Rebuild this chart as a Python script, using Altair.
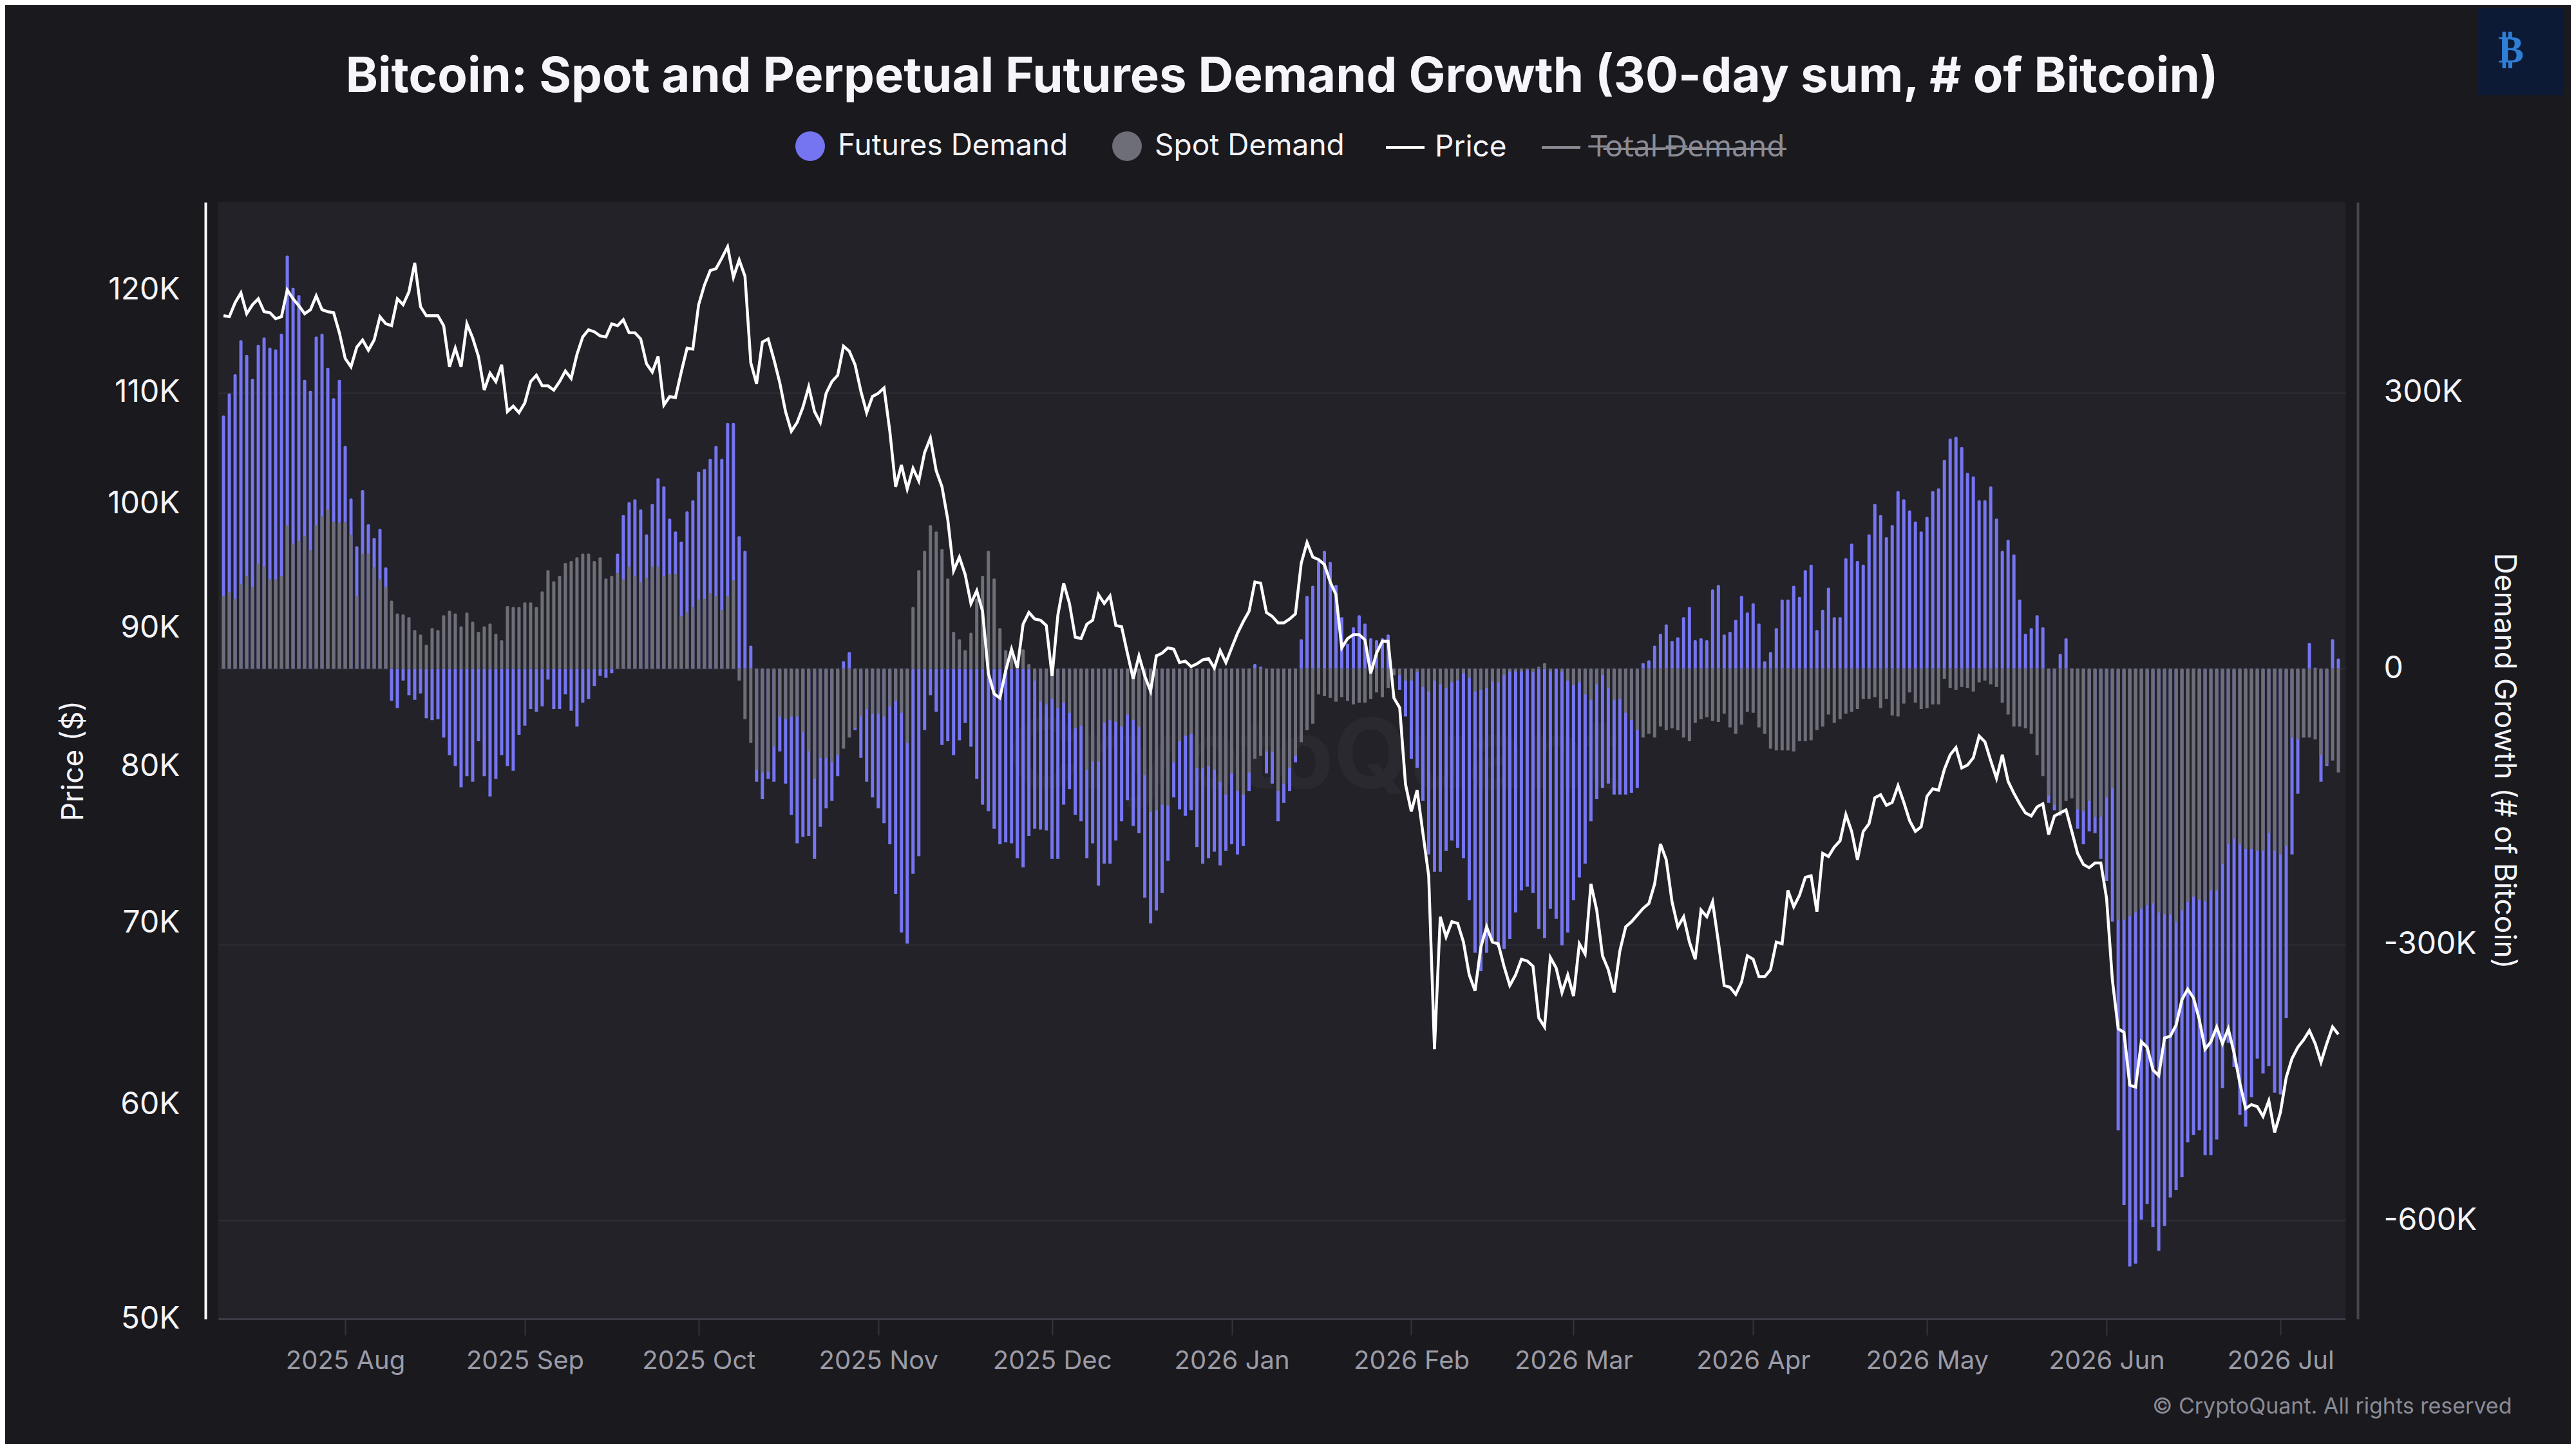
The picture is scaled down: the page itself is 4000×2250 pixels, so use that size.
import altair as alt
import pandas as pd

# ---------------- data ----------------
START_DATE = "2025-07-11"   # first daily bar

# BTC price, thousands of USD, one value per day
PRICE_K = [
    117.4, 117.3, 118.7, 119.7, 117.6, 118.5, 119.1, 117.8, 117.7, 117.1,
    117.3, 120.0, 119.1, 118.4, 117.6, 118.0, 119.4, 118.0, 117.8, 117.7,
    115.7, 113.2, 112.4, 114.3, 115.0, 114.0, 115.0, 117.3, 116.6, 116.4,
    119.1, 118.5, 119.8, 122.8, 118.3, 117.4, 117.4, 117.4, 116.4, 112.4,
    114.2, 112.4, 116.6, 115.2, 113.4, 110.2, 111.8, 111.0, 112.6, 108.2,
    108.7, 108.1, 109.0, 111.0, 111.6, 110.6, 110.6, 110.2, 111.0, 112.0,
    111.3, 113.6, 115.3, 116.0, 115.8, 115.4, 115.3, 116.6, 116.4, 117.0,
    115.7, 115.7, 115.1, 112.7, 111.9, 113.4, 108.8, 109.6, 109.5, 111.9,
    114.2, 114.1, 118.5, 120.5, 122.0, 122.2, 123.3, 124.5, 121.3, 123.1,
    121.4, 112.8, 110.8, 114.8, 115.1, 113.1, 110.9, 108.2, 106.4, 107.2,
    108.6, 110.5, 108.2, 107.2, 109.9, 111.0, 111.6, 114.4, 113.9, 112.6,
    110.1, 108.1, 109.6, 109.9, 110.4, 106.4, 101.5, 103.4, 101.3, 103.1,
    102.0, 104.5, 105.8, 102.9, 101.5, 98.7, 94.5, 95.6, 94.2, 91.9,
    92.9, 91.3, 86.6, 85.1, 84.8, 86.8, 88.4, 87.0, 90.3, 91.2,
    90.7, 90.6, 90.2, 86.4, 91.0, 93.5, 91.9, 89.3, 89.2, 90.3,
    90.6, 92.6, 91.9, 92.5, 90.2, 90.1, 88.1, 86.2, 87.9, 86.4,
    85.3, 87.9, 88.1, 88.5, 88.4, 87.4, 87.5, 87.1, 87.3, 87.6,
    87.7, 87.0, 88.3, 87.4, 88.5, 89.6, 90.5, 91.3, 93.6, 93.5,
    91.2, 90.9, 90.4, 90.4, 90.7, 91.1, 95.1, 96.8, 95.6, 95.4,
    95.0, 93.6, 92.6, 88.5, 89.2, 89.5, 89.5, 89.1, 86.6, 88.1,
    89.0, 89.0, 84.8, 84.1, 78.8, 77.0, 78.4, 75.6, 72.9, 62.9,
    70.4, 69.2, 70.1, 70.0, 68.9, 67.0, 66.1, 68.6, 69.8, 68.9,
    68.8, 67.5, 66.4, 67.0, 67.9, 67.8, 67.5, 64.6, 64.1, 68.0,
    67.4, 66.0, 67.0, 65.8, 68.8, 68.2, 72.4, 70.8, 68.1, 67.3,
    66.0, 68.4, 69.8, 70.1, 70.5, 70.9, 71.2, 72.4, 74.9, 73.9,
    71.3, 69.8, 70.4, 68.9, 67.9, 70.8, 70.4, 71.3, 68.9, 66.4,
    66.3, 65.9, 66.6, 68.1, 67.9, 66.9, 66.9, 67.3, 68.9, 68.8,
    72.0, 71.0, 71.7, 72.8, 72.9, 70.7, 74.3, 74.1, 74.7, 75.1,
    76.8, 75.7, 73.9, 75.7, 76.2, 77.9, 78.1, 77.4, 77.6, 78.7,
    77.6, 76.4, 75.7, 76.0, 78.0, 78.5, 78.4, 79.8, 80.8, 81.3,
    79.9, 80.1, 80.6, 82.1, 81.7, 80.4, 79.2, 80.8, 79.0, 78.2,
    77.5, 76.9, 76.7, 77.3, 77.5, 75.5, 76.7, 76.9, 77.1, 75.7,
    74.3, 73.6, 73.4, 73.7, 73.7, 71.5, 66.7, 64.0, 63.8, 61.0,
    60.9, 63.3, 63.0, 61.8, 61.5, 63.5, 63.6, 64.2, 65.6, 66.2,
    65.7, 64.5, 62.9, 63.3, 64.1, 63.2, 64.0, 62.7, 61.1, 59.8,
    60.0, 59.9, 59.4, 60.2, 58.6, 59.6, 61.4, 62.4, 63.0, 63.4,
    63.9, 63.2, 62.2, 63.2, 64.1, 63.7,
]

# Perpetual futures demand growth, thousands of BTC
FUTURES_K = [
    275, 299, 320, 357, 341, 315, 352, 360, 349, 347,
    364, 449, 414, 406, 314, 302, 361, 364, 327, 294,
    314, 242, 185, 133, 194, 157, 142, 152, 110, -35,
    -43, -13, -29, -34, -27, -54, -56, -55, -75, -94,
    -106, -129, -117, -123, -79, -117, -139, -120, -94, -106,
    -111, -72, -62, -44, -47, -41, -12, -44, -44, -28,
    -46, -63, -37, -33, -19, -8, -10, -5, 125, 167,
    181, 184, 173, 146, 179, 207, 198, 163, 149, 138,
    171, 183, 214, 217, 228, 242, 228, 267, 267, 144,
    128, 25, -123, -142, -120, -123, -90, -125, -159, -190,
    -183, -182, -207, -172, -152, -144, -117, 8, 18, -67,
    -97, -123, -140, -152, -168, -191, -245, -287, -299, -223,
    -204, -67, -29, -47, -83, -79, -94, -78, -59, -85,
    -120, -148, -155, -174, -191, -189, -190, -206, -216, -182,
    -174, -175, -176, -207, -207, -148, -131, -159, -166, -206,
    -190, -236, -212, -212, -187, -166, -143, -171, -179, -249,
    -277, -263, -244, -209, -140, -153, -160, -154, -194, -212,
    -206, -199, -214, -198, -191, -202, -193, -133, 5, 2,
    -114, -125, -166, -146, -133, -102, 32, 79, 90, 117,
    128, 116, 91, 56, 27, 45, 58, 49, 33, 31,
    33, 37, -7, -23, -52, -98, -108, -144, -202, -221,
    -221, -198, -187, -195, -206, -252, -309, -329, -309, -297,
    -303, -305, -294, -265, -241, -237, -244, -283, -293, -261,
    -272, -301, -287, -252, -227, -212, -166, -142, -130, -125,
    -137, -137, -137, -135, -130, 6, 9, 25, 38, 48,
    30, 34, 56, 67, 31, 33, 31, 86, 91, 37,
    40, 53, 79, 61, 71, 49, 8, 18, 44, 75,
    75, 90, 78, 107, 113, 42, 64, 88, 56, 56,
    120, 136, 117, 113, 146, 179, 167, 143, 156, 193,
    184, 172, 160, 149, 165, 193, 196, 227, 250, 252,
    241, 213, 209, 183, 183, 198, 163, 128, 140, 124,
    75, 38, 44, 58, 45, -146, -154, 16, 33, -2,
    -174, -191, -177, -179, -207, -231, -275, -502, -583, -650,
    -647, -599, -582, -607, -633, -606, -575, -567, -553, -515,
    -507, -502, -529, -529, -512, -456, -407, -433, -485, -498,
    -466, -424, -440, -432, -461, -463, -380, -202, -136, -75,
    28, 1, -123, -106, 32, 11,
]

# Spot demand growth, thousands of BTC
SPOT_K = [
    79, 83, 76, 92, 101, 89, 114, 111, 97, 97,
    101, 156, 136, 139, 144, 129, 156, 166, 173, 160,
    159, 159, 146, 79, 125, 125, 110, 97, 89, 74,
    60, 59, 56, 42, 37, 26, 44, 42, 58, 63,
    60, 46, 61, 51, 40, 46, 49, 38, 31, 68,
    67, 67, 72, 72, 67, 84, 107, 95, 101, 115,
    117, 121, 125, 125, 117, 121, 98, 101, 104, 97,
    111, 101, 94, 99, 111, 111, 101, 103, 103, 57,
    61, 67, 75, 76, 82, 79, 64, 79, 96, -13,
    -55, -81, -110, -113, -112, -85, -52, -55, -52, -52,
    -69, -90, -120, -97, -97, -102, -94, -87, -75, -65,
    -52, -44, -49, -49, -52, -41, -35, -48, -81, 67,
    107, 128, 156, 149, 130, 98, 40, 32, 20, 39,
    76, 101, 128, 98, 44, 20, 18, -1, 21, 5,
    -13, -36, -39, -33, -43, -37, -48, -65, -62, -110,
    -101, -101, -59, -56, -58, -63, -50, -56, -63, -116,
    -156, -154, -148, -149, -102, -79, -73, -71, -108, -108,
    -106, -110, -123, -137, -114, -133, -137, -113, -98, -95,
    -90, -91, -133, -125, -108, -95, -80, -67, -60, -28,
    -30, -32, -36, -31, -35, -39, -37, -37, -33, -26,
    -31, -21, -7, -7, -13, -13, -4, -20, -25, -13,
    -17, -21, -15, -13, -5, -10, -25, -23, -21, -14,
    -15, -7, -3, -3, -3, -2, -4, 2, 6, -3,
    0, -3, -13, -18, -15, -28, -34, -17, -7, -21,
    -34, -33, -48, -56, -67, -75, -71, -75, -63, -67,
    -65, -67, -75, -79, -59, -55, -53, -57, -58, -49,
    -64, -71, -61, -47, -48, -64, -71, -87, -89, -89,
    -89, -90, -79, -79, -78, -67, -63, -50, -59, -55,
    -49, -47, -44, -33, -33, -31, -43, -33, -51, -52,
    -38, -26, -37, -44, -43, -39, -39, -11, -21, -23,
    -20, -21, -25, -15, -13, -17, -20, -37, -50, -63,
    -63, -65, -71, -94, -117, -138, -148, -160, -144, -141,
    -153, -155, -144, -161, -161, -140, -130, -273, -273, -269,
    -265, -261, -257, -255, -265, -267, -267, -275, -263, -254,
    -248, -251, -253, -241, -241, -212, -191, -185, -191, -196,
    -196, -198, -198, -179, -198, -202, -193, -75, -77, -75,
    -75, -77, -94, -104, -100, -113,
]

BAR_SERIES = ["Futures Demand", "Spot Demand"]
LINE_SERIES = ["Price", "Total Demand"]
PRICE_TICKS = [50000, 60000, 70000, 80000, 90000, 100000, 110000, 120000]
DEMAND_TICKS = [-600000, -300000, 0, 300000]
MONTHS = [(2025, 8), (2025, 9), (2025, 10), (2025, 11), (2025, 12), (2026, 1),
          (2026, 2), (2026, 3), (2026, 4), (2026, 5), (2026, 6), (2026, 7)]

TITLE = "Bitcoin: Spot and Perpetual Futures Demand Growth (30-day sum, # of Bitcoin)"
COPYRIGHT = "\u00a9 CryptoQuant. All rights reserved"
WATERMARK = "CryptoQuant"

# ---------------- styling ----------------
BG = "#19191e"
PLOT_BG = "#222228"
BLUE = "#7575f2"
GRAY = "#6e6e79"
WHITE = "#f4f4f8"
MUTED = "#8b8b95"
FONT = "Inter"
LEGEND_FONT = "Inter, 'Noto Sans', 'DejaVu Sans', sans-serif"

# ---------------- tables ----------------
dates = pd.date_range(START_DATE, periods=len(PRICE_K), freq="D").strftime("%Y-%m-%d").tolist()

price_df = pd.DataFrame({"date": dates,
                         "price": [p * 1000 for p in PRICE_K],
                         "series": "Price"})
bars_df = pd.concat([
    pd.DataFrame({"date": dates, "value": [v * 1000 for v in FUTURES_K],
                  "series": BAR_SERIES[0], "ord": 0}),
    pd.DataFrame({"date": dates, "value": [v * 1000 for v in SPOT_K],
                  "series": BAR_SERIES[1], "ord": 1}),
], ignore_index=True)

# ---------------- encodings ----------------
x_scale = alt.Scale(type="utc", domain=[
    alt.DateTime(year=2025, month=7, date=10, hours=15, minutes=46, utc=True),
    alt.DateTime(year=2026, month=7, date=11, hours=16, utc=True)])
x_axis = alt.Axis(
    values=[alt.DateTime(year=y, month=m, date=1, utc=True) for y, m in MONTHS],
    labelExpr="utcFormat(datum.value, '%Y %b')",
    labelColor="#9b9ba6", labelFontSize=40,
    labelPadding=20, labelFlush=False, labelOverlap=False, labelLimit=400,
    ticks=True, tickSize=25, tickColor="#34343d", tickWidth=2,
    domainColor="#3d3d47", domainWidth=3, grid=False,
    title=COPYRIGHT, titleColor=MUTED, titleFontSize=34, titleFontWeight="normal",
    titleAlign="right", titleBaseline="alphabetic", titleAngle=0,
    titleX=3561, titleY=146, titleLimit=2000)
x_enc = alt.X("date:T", scale=x_scale, axis=x_axis)

demand_axis = alt.Axis(
    orient="right", values=DEMAND_TICKS,
    labelExpr="datum.value == 0 ? '0' : (datum.value / 1000) + 'K'",
    labelColor=WHITE, labelFontSize=48, labelPadding=40, ticks=False, tickSize=0,
    domainColor="#45454f", domainWidth=4, offset=19,
    grid=True, gridColor="#2e2e36", gridWidth=2,
    title="Demand Growth (# of Bitcoin)", titleColor=WHITE, titleFontSize=46,
    titleFontWeight="normal", titlePadding=18)

price_axis = alt.Axis(
    orient="left", values=PRICE_TICKS,
    labelExpr="(datum.value / 1000) + 'K'",
    labelColor=WHITE, labelFontSize=48, labelPadding=40, ticks=False, tickSize=0,
    domainColor="#ffffff", domainWidth=4, offset=20, grid=False,
    title="Price ($)", titleColor=WHITE, titleFontSize=46,
    titleFontWeight="normal", titlePadding=28)

strike = "".join(ch + "\u0336" for ch in "Total Demand")

bars = alt.Chart(bars_df).mark_bar(width=5, cornerRadiusEnd=2).encode(
    x=x_enc,
    y=alt.Y("value:Q", stack=None,
            scale=alt.Scale(domain=[-707000, 507000], nice=False, zero=False),
            axis=demand_axis),
    color=alt.Color("series:N",
                    scale=alt.Scale(domain=BAR_SERIES, range=[BLUE, GRAY]),
                    legend=alt.Legend(
                        orient="none", legendX=896, legendY=-110,
                        direction="horizontal", title=None, padding=0,
                        symbolType="circle", symbolSize=2116,
                        symbolStrokeWidth=0, symbolOpacity=1,
                        labelColor=WHITE, labelFontSize=46, labelOffset=20,
                        labelFont=FONT, columnPadding=68, labelLimit=800)),
    order=alt.Order("ord:Q"),
)

line = alt.Chart(price_df).mark_line(strokeWidth=4.5).encode(
    x=x_enc,
    y=alt.Y("price:Q",
            scale=alt.Scale(type="log", domain=[50000, 129300], nice=False),
            axis=price_axis),
    stroke=alt.Stroke("series:N",
                      scale=alt.Scale(domain=LINE_SERIES, range=["#ffffff", MUTED]),
                      legend=alt.Legend(
                          orient="none", legendX=1811, legendY=-117,
                          direction="horizontal", title=None, padding=0,
                          symbolType="stroke", symbolSize=3600,
                          symbolStrokeWidth=4,
                          labelColor={"expr": "datum.value == 'Total Demand' ? '%s' : '%s'" % (MUTED, WHITE)},
                          labelExpr="datum.value == 'Total Demand' ? '%s' : datum.label" % strike,
                          labelFont=LEGEND_FONT,
                          labelFontSize=46, labelOffset=14,
                          columnPadding=46, labelLimit=800)),
)

# faint brand watermark in the middle of the plot and the badge in the corner
watermark = alt.Chart(pd.DataFrame({"t": [WATERMARK]})).mark_text(
    fontSize=150, fontWeight="bold", color="#29292f", font=FONT,
    align="center", baseline="middle"
).encode(text="t:N", x=alt.value(1702), y=alt.value(865))

badge = alt.Chart(pd.DataFrame({"t": ["\u20bf"]})).mark_rect(
    color="#0c1a36"
).encode(x=alt.value(3508), x2=alt.value(3641), y=alt.value(-301), y2=alt.value(-166))

badge_text = alt.Chart(pd.DataFrame({"t": ["\u20bf"]})).mark_text(
    fontSize=60, fontWeight="bold", color="#2f7fd6", font="DejaVu Sans",
    align="center", baseline="middle"
).encode(text="t:N", x=alt.value(3560), y=alt.value(-235))

chart = alt.layer(watermark, bars, line, badge, badge_text).resolve_scale(y="independent").properties(
    width=3303, height=1734,
    title=alt.TitleParams(TITLE, fontSize=76, fontWeight="bold", color="#f6f6fa",
                          anchor="middle", offset=45, dy=191),
    autosize=alt.AutoSizeParams(type="none"),
    padding={"left": 331, "top": 306, "right": 350, "bottom": 194},
    background=BG,
).configure_view(fill=PLOT_BG, stroke=None).configure_axis(
    labelFont=FONT, titleFont=FONT
).configure_legend(labelFont=FONT).configure_title(font=FONT)

chart.save("out.html", embed_options={"renderer": "svg", "actions": False})
